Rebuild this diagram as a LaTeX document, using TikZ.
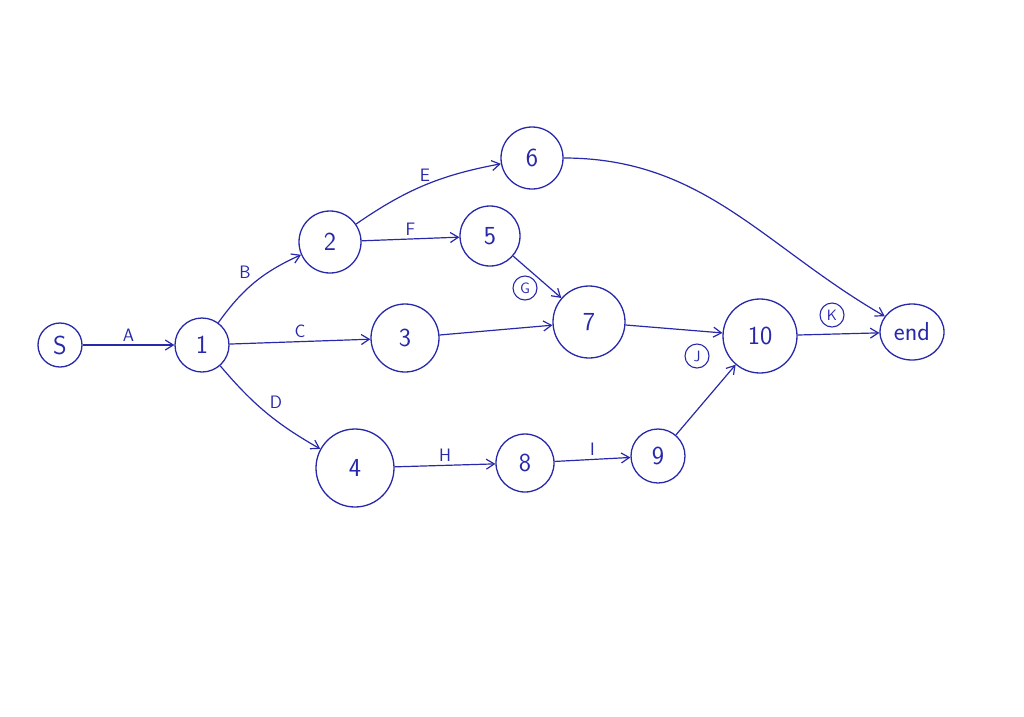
\documentclass[tikz,border=0pt]{standalone}
\usetikzlibrary{arrows.meta,shapes.geometric}
\definecolor{ink}{RGB}{40,40,170}
\begin{document}
\begin{tikzpicture}[x=1pt,y=-1pt,
  st/.style={circle,draw=ink,text=ink,line width=1.3pt,font=\fontsize{26}{28}\selectfont\sffamily,inner sep=0pt},
  sm/.style={circle,draw=ink,text=ink,line width=1.1pt,font=\fontsize{15}{17}\selectfont\sffamily,inner sep=1pt,minimum size=24pt},
  lb/.style={text=ink,font=\fontsize{18}{20}\selectfont\sffamily},
  ed/.style={draw=ink,line width=1.2pt,-{Straight Barb[length=8pt,width=10pt]}}]
\useasboundingbox (0,0) rectangle (1024,716);
\node[st,minimum size=44pt] (s) at (60,345) {S};
\node[st,minimum size=54pt] (n1) at (202,345) {1};
\node[st,minimum size=62pt] (n2) at (330,242) {2};
\node[st,minimum size=62pt] (n6) at (532,158) {6};
\node[st,minimum size=60pt] (n5) at (490,236) {5};
\node[st,minimum size=68pt] (n3) at (405,338) {3};
\node[st,minimum size=72pt] (n7) at (589,322) {7};
\node[st,minimum size=74pt] (n10) at (760,336) {10};
\node[st,ellipse,minimum width=64pt,minimum height=56pt] (end) at (912,332) {end};
\node[st,minimum size=78pt] (n4) at (355,468) {4};
\node[st,minimum size=58pt] (n8) at (525,463) {8};
\node[st,minimum size=54pt] (n9) at (658,456) {9};
\draw[ed] (s) -- node[lb,above] {A} (n1);
\draw[ed] (n1) to[bend left=15] node[lb,above left] {B} (n2);
\draw[ed] (n1) -- node[lb,above] {C} (n3);
\draw[ed] (n1) to[bend left=-10] node[lb,above right] {D} (n4);
\draw[ed] (n2) to[bend left=12] node[lb,above] {E} (n6);
\draw[ed] (n2) -- node[lb,above] {F} (n5);
\draw[ed] (n5) -- (n7);
\draw[ed] (n3) -- (n7);
\draw[ed] (n6) to[out=0,in=150] (end);
\draw[ed] (n7) -- (n10);
\draw[ed] (n10) -- (end);
\draw[ed] (n4) -- node[lb,above] {H} (n8);
\draw[ed] (n8) -- node[lb,above] {I} (n9);
\draw[ed] (n9) -- (n10);
\node[sm] (g) at (525,288) {G};
\node[sm] (j) at (697,356) {J};
\node[sm] (k) at (832,315) {K};
\end{tikzpicture}
\end{document}
